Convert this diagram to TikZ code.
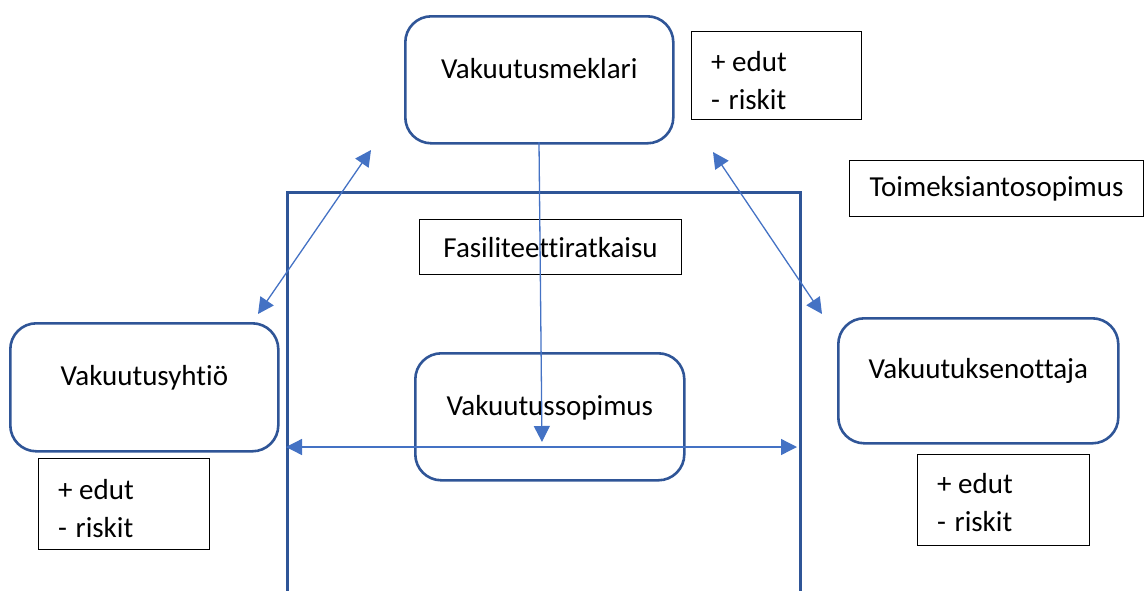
\documentclass[tikz,border=0pt]{standalone}
\usepackage{fontspec}
\setmainfont{Carlito}[Ligatures=NoCommon]
\usetikzlibrary{arrows.meta}
\definecolor{boxblue}{HTML}{2F5597}
\definecolor{arrowblue}{HTML}{4472C4}
\tikzset{
  party/.style={draw=boxblue, line width=2.6pt, rounded corners=26pt, anchor=north west, inner sep=0pt},
  plainbox/.style={draw=black, line width=1.1pt, anchor=north west, inner sep=0pt},
  notetext/.style={align=left, inner sep=0pt, anchor=west, font=\fontsize{29}{38}\selectfont},
  partytext/.style={font=\fontsize{29}{35}\selectfont},
  link/.style={draw=arrowblue, line width=1.3pt, {Triangle[length=16pt,width=16pt]}-{Triangle[length=16pt,width=16pt]}},
  onelink/.style={draw=arrowblue, line width=1.3pt, -{Triangle[length=16pt,width=16pt]}},
}
\begin{document}
\begin{tikzpicture}[x=1pt,y=-1pt]
\useasboundingbox (0,0) rectangle (1146,590);

% open frame round the facility
\draw[boxblue, line width=3pt] (287,592) -- (287,192) -- (800,192) -- (800,592);

% parties
\node[party, minimum width=268pt, minimum height=127pt,
      label={[partytext, yshift=11pt]center:Vakuutusmeklari}] (meklari) at (404,15) {};
\node[party, minimum width=268pt, minimum height=128pt,
      label={[partytext, yshift=10pt]center:Vakuutusyhtiö}] (yhtio) at (9,322) {};
\node[party, minimum width=269pt, minimum height=127pt,
      label={[partytext, yshift=9pt]center:Vakuutussopimus}] (sopimus) at (414,352) {};
\node[party, minimum width=280pt, minimum height=125pt,
      label={[partytext, yshift=10pt]center:Vakuutuksenottaja}] (ottaja) at (837,317) {};

% labelled boxes
\node[plainbox, minimum width=294pt, minimum height=56pt, font=\fontsize{29}{35}\selectfont] (toimeksianto) at (849,160) {Toimeksiantosopimus};
\node[plainbox, minimum width=262pt, minimum height=55pt, font=\fontsize{29}{35}\selectfont] (fasiliteetti) at (419,219) {Fasiliteettiratkaisu};

% pros and cons
\node[plainbox, minimum width=170pt, minimum height=88pt,
      label={[notetext, xshift=20pt, yshift=-5pt]west:{+ edut\\-\kern2pt{} riskit}}] (edutM) at (691,31) {};
\node[plainbox, minimum width=171pt, minimum height=91pt,
      label={[notetext, xshift=20pt, yshift=-4pt]west:{+ edut\\-\kern2pt{} riskit}}] (edutY) at (38,458) {};
\node[plainbox, minimum width=172pt, minimum height=91pt,
      label={[notetext, xshift=20pt, yshift=-2pt]west:{+ edut\\-\kern2pt{} riskit}}] (edutO) at (917,454) {};

% connector ends
\coordinate (lTop) at (371,150);
\coordinate (lBot) at (258,314);
\coordinate (rTop) at (713,152);
\coordinate (rBot) at (822,314);
\coordinate (vStart) at (539,142);
\coordinate (vEnd) at (542,442);
\coordinate (hLeft) at (286,447);
\coordinate (hRight) at (797,447);

% connectors
\draw[link] (lBot) -- (lTop);
\draw[link] (rTop) -- (rBot);
\draw[onelink] (vStart) -- (vEnd);
\draw[link] (hLeft) -- (hRight);
\end{tikzpicture}
\end{document}
